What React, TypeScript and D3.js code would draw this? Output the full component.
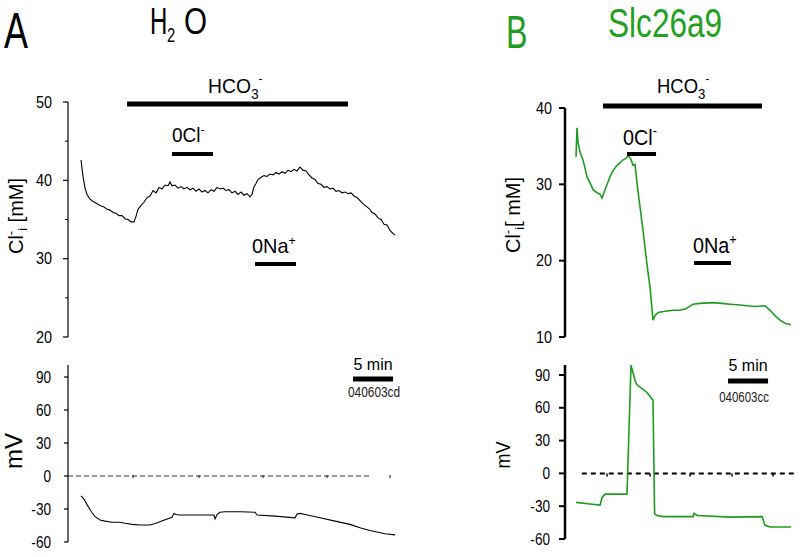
import React from "react";
import * as d3 from "d3";

// ---------- DATA (time in minutes, values in mM or mV) ----------
const aClTrace: [number, number][] = [
  [1.63, 42.6], [1.75, 41.5], [1.88, 40.5], [2.13, 39.0], [2.38, 38.2], [2.75, 37.6], [3.13, 37.3],
  [3.5, 37.1], [4.0, 36.8], [4.5, 36.6], [4.88, 36.3], [5.25, 36.2], [5.63, 35.9], [6.0, 35.8],
  [6.38, 35.5], [6.75, 35.5], [7.13, 35.1], [7.5, 35.0], [7.88, 34.7], [8.25, 34.7], [8.5, 35.4],
  [8.75, 36.3], [9.13, 36.8], [9.5, 37.2], [9.88, 37.8], [10.25, 38.0], [10.63, 38.7], [11.0, 38.4],
  [11.38, 39.1], [11.75, 38.9], [12.13, 39.4], [12.5, 39.3], [12.75, 39.8], [13.0, 39.3], [13.38, 39.4],
  [13.75, 39.0], [14.13, 39.2], [14.5, 38.9], [14.88, 39.1], [15.25, 38.8], [15.63, 39.0], [16.0, 38.6],
  [16.38, 38.9], [16.75, 38.5], [17.13, 38.7], [17.5, 38.4], [17.88, 38.8], [18.25, 38.6], [18.63, 39.1],
  [19.0, 38.9], [19.38, 39.0], [19.75, 38.7], [20.13, 38.8], [20.5, 38.4], [20.88, 38.6], [21.25, 38.2],
  [21.63, 38.5], [22.0, 38.1], [22.38, 38.3], [22.75, 37.9], [23.0, 38.2], [23.25, 39.2], [23.5, 39.6],
  [23.75, 40.1], [24.13, 40.4], [24.5, 40.6], [24.88, 40.5], [25.25, 40.8], [25.63, 40.7], [26.0, 41.0],
  [26.38, 40.8], [26.75, 41.1], [27.13, 40.9], [27.5, 41.3], [27.88, 41.1], [28.25, 41.4], [28.63, 41.2],
  [29.0, 41.7], [29.38, 41.3], [29.75, 41.2], [30.13, 40.7], [30.5, 40.3], [30.88, 40.1], [31.25, 39.6],
  [31.63, 39.5], [32.0, 39.1], [32.38, 39.2], [32.75, 38.9], [33.13, 39.0], [33.5, 38.6], [33.88, 38.7],
  [34.25, 38.4], [34.63, 38.5], [35.0, 38.3], [35.38, 38.4], [35.75, 38.0], [36.13, 37.8], [36.5, 37.4],
  [36.88, 37.0], [37.25, 36.7], [37.63, 36.4], [38.0, 35.9], [38.38, 35.7], [38.75, 35.2], [39.13, 35.0],
  [39.5, 34.4], [39.88, 34.3], [40.25, 33.6], [40.63, 33.2], [40.88, 33.0],
];

const aMvTrace: [number, number][] = [
  [1.63, -18], [2.0, -21], [2.38, -26], [2.88, -32], [3.38, -37], [4.0, -40], [4.63, -41], [5.5, -42],
  [6.5, -42], [7.13, -43], [8.0, -44], [9.0, -44.5], [10.25, -44.5], [11.0, -43], [11.88, -40.5],
  [13.0, -37.5], [13.25, -34], [13.5, -35], [14.0, -35.5], [16.5, -35.5], [18.25, -35.5], [18.38, -39],
  [18.63, -35], [19.0, -33], [19.63, -32.5], [21.5, -32.5], [23.38, -33], [23.63, -35.5], [25.88, -36.5],
  [28.38, -38], [28.63, -34.5], [29.0, -34], [29.63, -35], [31.5, -38], [33.38, -41], [35.25, -44],
  [36.5, -47], [37.75, -49.5], [39.63, -52.5], [40.88, -53.5],
];

const bClTrace: [number, number][] = [
  [1.38, 33.6], [1.5, 37.4], [1.63, 35.5], [1.88, 34.2], [2.25, 33.2], [2.75, 31.0], [3.13, 30.2],
  [3.5, 29.3], [4.0, 28.9], [4.38, 28.7], [4.63, 28.2], [5.0, 29.3], [5.38, 30.3], [5.63, 31.0],
  [6.0, 31.8], [6.5, 32.5], [6.88, 32.8], [7.25, 33.2], [7.63, 33.4], [7.88, 33.8], [8.13, 33.5],
  [8.38, 32.9], [8.5, 32.5], [8.75, 32.6], [9.0, 30.2], [9.38, 27], [9.75, 24], [10.25, 19.5],
  [10.63, 16.5], [11.0, 12.2], [11.25, 12.8], [11.63, 13.2], [12.13, 13.3], [12.75, 13.4], [13.5, 13.5],
  [14.38, 13.5], [15.13, 13.7], [16.0, 14.3], [16.88, 14.4], [18.5, 14.5], [19.63, 14.4], [20.63, 14.3],
  [21.88, 14.2], [22.75, 14.1], [23.75, 14.0], [25.0, 14.1], [25.63, 13.5], [26.25, 12.8], [26.88, 12.2],
  [27.5, 11.8], [28.25, 11.6],
];

const bMvTrace: [number, number][] = [
  [1.38, -26.5], [3.13, -28], [4.38, -29], [4.63, -22], [5.0, -19], [6.0, -19], [7.75, -19],
  [8.0, 40], [8.25, 99], [8.5, 92], [8.75, 85], [9.0, 81], [9.38, 79], [10.25, 74], [11.0, 67],
  [11.2, -37], [11.5, -38.5], [12.25, -39.5], [16.0, -39.5], [16.13, -36.5], [16.5, -38.5],
  [20.63, -40], [24.63, -39.5], [25.0, -47.5], [25.63, -49], [28.25, -49],
];

// solution periods [start, end] in minutes
const aHco3 = [7.38, 35.0];
const aZeroCl = [13.0, 18.13];
const aZeroNa = [23.38, 28.5];
const bHco3 = [4.75, 24.63];
const bZeroCl = [7.75, 11.38];
const bZeroNa = [16.13, 20.75];
const aScaleBarStart = 35.63;
const bScaleBarStart = 20.38;
const scaleBarMinutes = 5;

const aZeroLine = [0, 37.75];
const bZeroLine = [2.1, 28.75];
const aMarks = [8.13, 16.38, 24.38, 32.38, 40.25];
const bMarks = [5.25, 10.63, 15.63, 20.88, 26.0];

const aClTicks = [20, 30, 40, 50];
const aClMinor = [25, 35, 45];
const bClTicks = [10, 20, 30, 40];
const mvTicks = [-60, -30, 0, 30, 60, 90];

const GREEN = "#1f9c1f";
const FONT = "'Liberation Sans', Arial, sans-serif";

function T({ x, y, size, anchor = "start", sx = 1, fill = "#000", rotate = 0, children }: any) {
  return (
    <text
      transform={`translate(${x},${y}) rotate(${rotate}) scale(${sx},1)`}
      fontSize={size}
      textAnchor={anchor}
      fill={fill}
      fontWeight="normal"
    >
      {children}
    </text>
  );
}

export default function App() {
  // Panel A scales
  const axA = d3.scaleLinear().domain([0, 45]).range([68, 68 + 45 * 8]);
  const ayCl = d3.scaleLinear().domain([20, 50]).range([337, 102]);
  const ayMv = d3.scaleLinear().domain([-60, 90]).range([542, 377]);
  // Panel B scales
  const bxB = d3.scaleLinear().domain([0, 30]).range([565, 565 + 30 * 8]);
  const byCl = d3.scaleLinear().domain([10, 40]).range([337, 108]);
  const byMv = d3.scaleLinear().domain([-60, 90]).range([539, 375]);

  const lineA = (ys: any) => d3.line<[number, number]>().x((d) => axA(d[0])).y((d) => ys(d[1]));
  const lineB = (ys: any) => d3.line<[number, number]>().x((d) => bxB(d[0])).y((d) => ys(d[1]));

  const bar = (xs: any, p: number[], y: number, h: number, key: string) => (
    <rect key={key} x={xs(p[0])} y={y - h / 2} width={xs(p[1]) - xs(p[0])} height={h} fill="#000" />
  );

  return (
    <svg width={800} height={557} style={{ position: "absolute", left: 0, top: 0, background: "#fff" }} fontFamily={FONT}>
      <rect width={800} height={557} fill="#fff" />
      {/* Titles */}
      <T x={4} y={48} size={50} sx={0.72}>A</T>
      <T x={150} y={33.5} size={37} sx={0.65}>H</T>
      <T x={167} y={42} size={21} sx={0.7}>2</T>
      <T x={184} y={33.5} size={37} sx={0.8}>O</T>
      <T x={506} y={48} size={46} sx={0.7} fill={GREEN}>B</T>
      <T x={608} y={37} size={40} sx={0.79} fill="#22a022">Slc26a9</T>

      {/* ===== Panel A top ===== */}
      <line x1={68} x2={68} y1={ayCl(50)} y2={ayCl(20)} stroke="#000" strokeWidth={1.2} />
      {aClTicks.map((t) => (
        <g key={"act" + t}>
          <line x1={63} x2={68} y1={ayCl(t)} y2={ayCl(t)} stroke="#000" strokeWidth={1.2} />
          <T x={52} y={ayCl(t) + 5.5} size={16} anchor="end" sx={0.9}>{t}</T>
        </g>
      ))}
      {aClMinor.map((t) => (
        <line key={"acm" + t} x1={65} x2={68} y1={ayCl(t)} y2={ayCl(t)} stroke="#000" strokeWidth={1} />
      ))}
      <text transform={`translate(23,216) rotate(-90)`} fontSize={20} textAnchor="middle">
        Cl<tspan fontSize={13} dy={-8}>-</tspan>
        <tspan fontSize={13} dy={12}>i</tspan>
        <tspan dy={-4}> [mM]</tspan>
      </text>
      <path d={lineA(ayCl)(aClTrace) || ""} fill="none" stroke="#000" strokeWidth={1.1} />
      {bar(axA, aHco3, 104, 5, "ahco")}
      {bar(axA, aZeroCl, 154, 4, "acl")}
      {bar(axA, aZeroNa, 264, 4, "ana")}
      <text transform="translate(208,93) scale(0.92,1)" fontSize={21}>
        HCO<tspan fontSize={15} dy={6}>3</tspan>
        <tspan fontSize={13} dy={-16}>-</tspan>
      </text>
      <text transform="translate(172,142) scale(0.95,1)" fontSize={20}>
        0Cl<tspan fontSize={13} dy={-8}>-</tspan>
      </text>
      <text transform="translate(252,253) scale(0.95,1)" fontSize={21}>
        0Na<tspan fontSize={13} dy={-8}>+</tspan>
      </text>

      {/* ===== Panel A bottom ===== */}
      <line x1={68} x2={68} y1={365} y2={ayMv(-60)} stroke="#000" strokeWidth={1.2} />
      {mvTicks.map((t) => (
        <g key={"amt" + t}>
          <line x1={64} x2={68} y1={ayMv(t)} y2={ayMv(t)} stroke="#000" strokeWidth={1.2} />
          <T x={51} y={ayMv(t) + 5.5} size={16} anchor="end" sx={0.85}>{t}</T>
        </g>
      ))}
      <T x={22} y={451} size={24} anchor="middle" rotate={-90}>mV</T>
      <line x1={axA(aZeroLine[0])} x2={axA(aZeroLine[1])} y1={ayMv(0)} y2={ayMv(0)} stroke="#333" strokeWidth={1} strokeDasharray="5,3" />
      {aMarks.map((m) => (
        <line key={"am" + m} x1={axA(m)} x2={axA(m)} y1={ayMv(0) - 1} y2={ayMv(0) + 2} stroke="#333" strokeWidth={1.2} />
      ))}
      <path d={lineA(ayMv)(aMvTrace) || ""} fill="none" stroke="#000" strokeWidth={1.1} />
      {bar(axA, [aScaleBarStart, aScaleBarStart + scaleBarMinutes], 379, 5, "asb")}
      <T x={axA(aScaleBarStart + scaleBarMinutes / 2)} y={370} size={16} anchor="middle">5 min</T>
      <T x={axA(aScaleBarStart + scaleBarMinutes / 2) + 1} y={397} size={14} anchor="middle" sx={0.85} fill="#222">040603cd</T>

      {/* ===== Panel B top ===== */}
      <line x1={565} x2={565} y1={byCl(40)} y2={byCl(10)} stroke="#000" strokeWidth={2.5} />
      {bClTicks.map((t) => (
        <g key={"bct" + t}>
          <line x1={559} x2={565} y1={byCl(t)} y2={byCl(t)} stroke="#000" strokeWidth={2} />
          <T x={552} y={byCl(t) + 5.5} size={16} anchor="end" sx={0.9}>{t}</T>
        </g>
      ))}
      <text transform={`translate(520,215) rotate(-90)`} fontSize={20} textAnchor="middle">
        Cl<tspan fontSize={13} dy={-8}>-</tspan>
        <tspan fontSize={13} dy={12}>i</tspan>
        <tspan dy={-4}>[ mM]</tspan>
      </text>
      <path d={lineB(byCl)(bClTrace) || ""} fill="none" stroke={GREEN} strokeWidth={1.6} />
      {bar(bxB, bHco3, 106, 5, "bhco")}
      {bar(bxB, bZeroCl, 154, 4, "bcl")}
      {bar(bxB, bZeroNa, 263, 4, "bna")}
      <text transform="translate(657,93) scale(0.88,1)" fontSize={21}>
        HCO<tspan fontSize={15} dy={6}>3</tspan>
        <tspan fontSize={13} dy={-16}>-</tspan>
      </text>
      <text transform="translate(623,145) scale(0.9,1)" fontSize={22}>
        0Cl<tspan fontSize={14} dy={-9}>-</tspan>
      </text>
      <text transform="translate(693,253) scale(0.9,1)" fontSize={22}>
        0Na<tspan fontSize={14} dy={-9}>+</tspan>
      </text>

      {/* ===== Panel B bottom ===== */}
      <line x1={565} x2={565} y1={365} y2={byMv(-60)} stroke="#000" strokeWidth={2.5} />
      {mvTicks.map((t) => (
        <g key={"bmt" + t}>
          <line x1={559} x2={565} y1={byMv(t)} y2={byMv(t)} stroke="#000" strokeWidth={2} />
          <T x={550} y={byMv(t) + 5.5} size={16} anchor="end" sx={0.85}>{t}</T>
        </g>
      ))}
      <T x={510} y={455} size={21} anchor="middle" rotate={-90} sx={0.86}>mV</T>
      <line x1={bxB(bZeroLine[0])} x2={bxB(bZeroLine[1])} y1={byMv(0)} y2={byMv(0)} stroke="#000" strokeWidth={2} strokeDasharray="5,4" />
      {bMarks.map((m) => (
        <line key={"bm" + m} x1={bxB(m)} x2={bxB(m)} y1={byMv(0)} y2={byMv(0) + 3} stroke="#000" strokeWidth={1.5} />
      ))}
      <path d={lineB(byMv)(bMvTrace) || ""} fill="none" stroke={GREEN} strokeWidth={1.6} />
      {bar(bxB, [bScaleBarStart, bScaleBarStart + scaleBarMinutes], 381, 5, "bsb")}
      <T x={bxB(bScaleBarStart + scaleBarMinutes / 2)} y={371} size={16} anchor="middle">5 min</T>
      <T x={bxB(bScaleBarStart + scaleBarMinutes / 2) - 4} y={402} size={14} anchor="middle" sx={0.82} fill="#222">040603cc</T>
    </svg>
  );
}
